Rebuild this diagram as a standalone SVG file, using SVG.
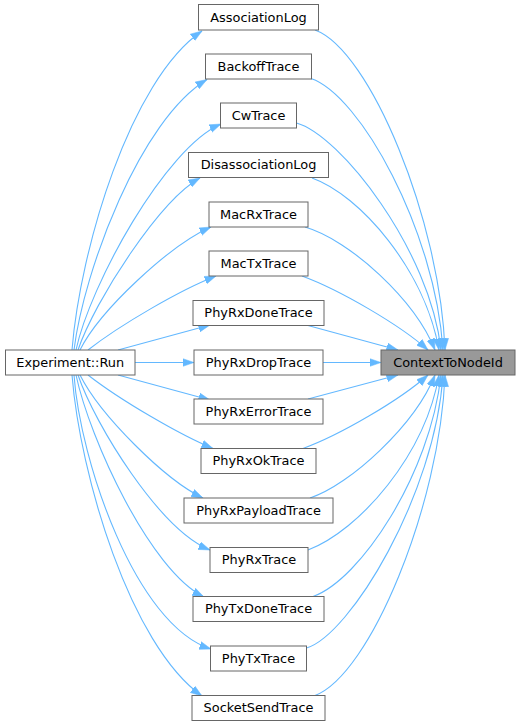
<svg xmlns="http://www.w3.org/2000/svg" width="520" height="725" viewBox="0 0 520 725">
<style>
.n rect{fill:#fff;stroke:#666;stroke-width:1}
.n.hl rect{fill:#999}
.n text{font-family:"DejaVu Sans",sans-serif;font-size:12.9px;fill:#000;text-anchor:middle}
.e path{fill:none;stroke:#63b8ff;stroke-width:1.1;marker-end:url(#ah)}
</style>
<defs>
<marker id="ah" markerUnits="userSpaceOnUse" markerWidth="12" markerHeight="9" viewBox="0 0 12 9" refX="11.5" refY="4.5" orient="auto">
<path d="M0,0.5 L11.5,4.5 L0,8.5 z" fill="#63b8ff" stroke="#63b8ff" stroke-width="0.5"/>
</marker>
</defs>
<g id="edges" class="e">
<path d="M72,350 C80,250 130,80 202,31"/>
<path d="M74,350 C84,270 140,120 207,79.5"/>
<path d="M76,350 C90,285 165,148 221,124"/>
<path d="M78,350 C95,300 160,200 200,178"/>
<path d="M80,350 C100,310 170,245 211,227"/>
<path d="M88,350 C120,325 180,290 216,276"/>
<path d="M118,350 L210,325"/>
<path d="M135,362.5 L194,362.5"/>
<path d="M118,375 L210,400"/>
<path d="M88,375 C120,400 180,435 213,448.5"/>
<path d="M80,375 C100,415 165,480 203,498"/>
<path d="M78,375 C95,425 160,530 210,550"/>
<path d="M76,375 C90,440 150,570 204,597"/>
<path d="M74,375 C80,460 135,625 211,649"/>
<path d="M72,375 C80,475 130,645 202,696"/>
<path d="M315,30 C370,50 440,220 445,350"/>
<path d="M311,78.5 C360,95 435,230 443,350"/>
<path d="M296.5,123 C340,135 430,250 441,350"/>
<path d="M312,178 C360,195 425,270 439,350"/>
<path d="M305,227 C350,240 415,300 435,350"/>
<path d="M302,276 C340,290 400,325 428,350"/>
<path d="M308,325.5 L398,350"/>
<path d="M323,362.5 L381,362.5"/>
<path d="M308,399 L398,375"/>
<path d="M303,448.5 C340,435 400,400 428,375"/>
<path d="M310,498 C350,485 415,425 435,375"/>
<path d="M308,550 C360,530 425,455 439,375"/>
<path d="M313,596.5 C360,580 430,475 441,375"/>
<path d="M306.5,648 C350,635 435,495 443,375"/>
<path d="M315,695.5 C370,675 440,505 445,375"/>
</g>
<g id="experiment_run" class="n"><rect x="5.5" y="350" width="129.5" height="25"/><text x="70.25" y="366.7">Experiment::Run</text></g>
<g id="context_to_node_id" class="n hl"><rect x="381" y="350" width="134" height="25"/><text x="448" y="366.7">ContextToNodeId</text></g>
<g id="association_log" class="n"><rect x="198.5" y="4.5" width="120" height="25.5"/><text x="258.5" y="21.7">AssociationLog</text></g>
<g id="backoff_trace" class="n"><rect x="205.5" y="54" width="106" height="25"/><text x="258.5" y="70.7">BackoffTrace</text></g>
<g id="cw_trace" class="n"><rect x="220.5" y="103" width="76" height="25"/><text x="258.5" y="119.7">CwTrace</text></g>
<g id="disassociation_log" class="n"><rect x="188.5" y="152.5" width="140" height="25"/><text x="258.5" y="169.2">DisassociationLog</text></g>
<g id="mac_rx_trace" class="n"><rect x="209" y="202" width="99" height="25"/><text x="258.5" y="218.7">MacRxTrace</text></g>
<g id="mac_tx_trace" class="n"><rect x="209" y="251" width="99" height="25"/><text x="258.5" y="267.7">MacTxTrace</text></g>
<g id="phy_rx_done_trace" class="n"><rect x="193" y="300.5" width="131" height="25"/><text x="258.5" y="317.2">PhyRxDoneTrace</text></g>
<g id="phy_rx_drop_trace" class="n"><rect x="194" y="350" width="129" height="25"/><text x="258.5" y="366.7">PhyRxDropTrace</text></g>
<g id="phy_rx_error_trace" class="n"><rect x="194" y="399" width="129" height="25"/><text x="258.5" y="415.7">PhyRxErrorTrace</text></g>
<g id="phy_rx_ok_trace" class="n"><rect x="201" y="448.5" width="115" height="25"/><text x="258.5" y="465.2">PhyRxOkTrace</text></g>
<g id="phy_rx_payload_trace" class="n"><rect x="184" y="498" width="149" height="25"/><text x="258.5" y="514.7">PhyRxPayloadTrace</text></g>
<g id="phy_rx_trace" class="n"><rect x="210" y="547.5" width="98" height="25"/><text x="259" y="564.2">PhyRxTrace</text></g>
<g id="phy_tx_done_trace" class="n"><rect x="193" y="596.5" width="131" height="25"/><text x="258.5" y="613.2">PhyTxDoneTrace</text></g>
<g id="phy_tx_trace" class="n"><rect x="210.5" y="646" width="96" height="25"/><text x="258.5" y="662.7">PhyTxTrace</text></g>
<g id="socket_send_trace" class="n"><rect x="192" y="695.5" width="133" height="25"/><text x="258.5" y="712.2">SocketSendTrace</text></g>
</svg>
